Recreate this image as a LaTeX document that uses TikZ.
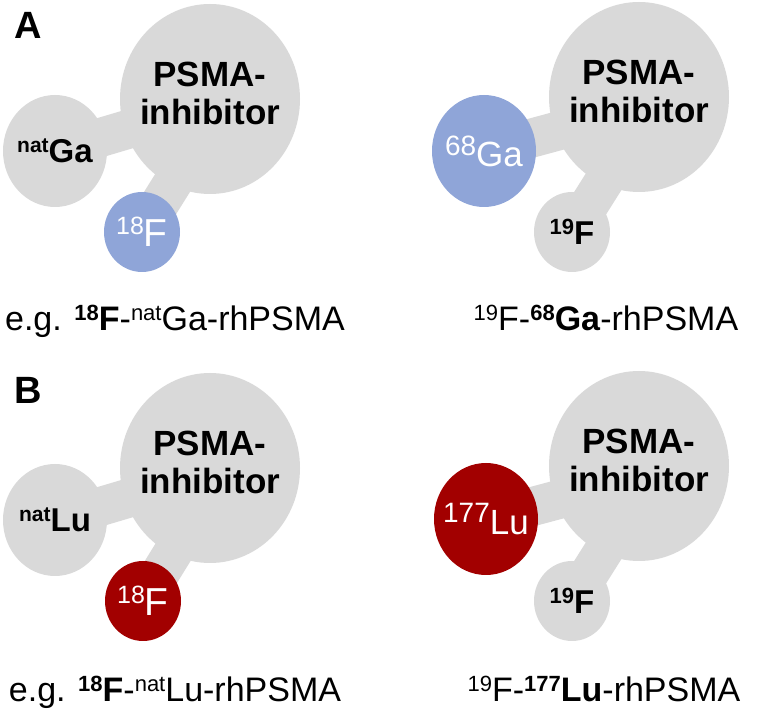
\documentclass[tikz,border=0pt]{standalone}
\usepackage{fontspec}
\setmainfont{Liberation Sans}
\usetikzlibrary{calc,backgrounds,shapes.geometric}

\definecolor{ballgray}{RGB}{217,217,217}
\definecolor{gablue}{RGB}{143,165,216}
\definecolor{lured}{RGB}{162,0,0}

% raised isotope number
\newcommand{\iso}[2]{\raisebox{0.32em}{\fontsize{#1}{#1}\selectfont #2}}

\tikzset{
  ball/.style={ellipse,fill=ballgray,inner sep=0pt},
  bigball/.style={ball,minimum width=90pt,minimum height=95pt},
  midball/.style={ball,minimum width=52pt,minimum height=56pt},
  smallball/.style={ball,minimum width=38pt,minimum height=40pt},
  bond/.style={ballgray,line width=19.5pt},
  inhtxt/.style={align=center,yshift=3pt,font=\bfseries\fontsize{17.5}{19}\selectfont},
  coldtxt/.style={font=\bfseries\fontsize{16.5}{19}\selectfont},
  hottxt/.style={text=white,font=\fontsize{17.5}{20}\selectfont},
  panel/.style={anchor=base west,inner sep=0pt,font=\bfseries\fontsize{19}{20}\selectfont},
  caption/.style={anchor=base,font=\fontsize{17}{20}\selectfont}
}

\begin{document}
\begin{tikzpicture}[x=0.5pt,y=-0.5pt]
  \useasboundingbox (0,0) rectangle (757,711);

  % panel A
  \node[panel] (pa) at (14,39) {A};
  \node[bigball,label={[inhtxt]center:{PSMA-\\inhibitor}}] (psmaA) at (210,99) {};
  \node[midball,label={[coldtxt]center:{\iso{10.5}{nat}Ga}}] (natga) at (55,151) {};
  \node[smallball,fill=gablue,label={[hottxt]center:{\fontsize{19.5}{20}\selectfont\iso{12.5}{18}F}}] (fA) at (142,232) {};
  \node[bigball,label={[inhtxt]center:{PSMA-\\inhibitor}}] (psmaAr) at (639,97) {};
  \node[midball,fill=gablue,label={[hottxt]center:{\iso{14}{68}Ga}}] (ga68) at (484,151) {};
  \node[smallball,label={[coldtxt]center:{\iso{11}{19}F}}] (fAr) at (572,232) {};
  \begin{scope}[on background layer]
    \draw[bond] (natga.center) -- ($(psmaA.center)+(0,6)$);
    \draw[bond] (fA.center) -- ($(psmaA.center)+(15,0)$);
    \draw[bond] (ga68.center) -- ($(psmaAr.center)+(0,12)$);
    \draw[bond] (fAr.center) -- ($(psmaAr.center)+(18,0)$);
  \end{scope}
  \node[caption] (capA) at (175,331) {e.g. \iso{11}{\bfseries 18}\textbf{F}-\iso{11}{nat}Ga-rhPSMA};
  \node[caption] (capAr) at (606,331) {\iso{11}{19}F-\iso{11}{\bfseries 68}\textbf{Ga}-rhPSMA};

  % panel B
  \node[panel] (pb) at (14,404) {B};
  \node[bigball,label={[inhtxt]center:{PSMA-\\inhibitor}}] (psmaB) at (210,468) {};
  \node[midball,label={[coldtxt]center:{\iso{10.5}{nat}Lu}}] (natlu) at (55,520) {};
  \node[smallball,fill=lured,label={[hottxt]center:{\fontsize{19.5}{20}\selectfont\iso{12.5}{18}F}}] (fB) at (143,601) {};
  \node[bigball,label={[inhtxt]center:{PSMA-\\inhibitor}}] (psmaBr) at (639,466) {};
  \node[midball,fill=lured,label={[hottxt]center:{\iso{14}{177}Lu}}] (lu177) at (486,519) {};
  \node[smallball,label={[coldtxt]center:{\iso{11}{19}F}}] (fBr) at (572,601) {};
  \begin{scope}[on background layer]
    \draw[bond] (natlu.center) -- ($(psmaB.center)+(0,6)$);
    \draw[bond] (fB.center) -- ($(psmaB.center)+(15,0)$);
    \draw[bond] (lu177.center) -- ($(psmaBr.center)+(0,12)$);
    \draw[bond] (fBr.center) -- ($(psmaBr.center)+(18,0)$);
  \end{scope}
  \node[caption] (capB) at (175,702) {e.g. \iso{11}{\bfseries 18}\textbf{F}-\iso{11}{nat}Lu-rhPSMA};
  \node[caption] (capBr) at (604,702) {\iso{11}{19}F-\iso{11}{\bfseries 177}\textbf{Lu}-rhPSMA};
\end{tikzpicture}
\end{document}
